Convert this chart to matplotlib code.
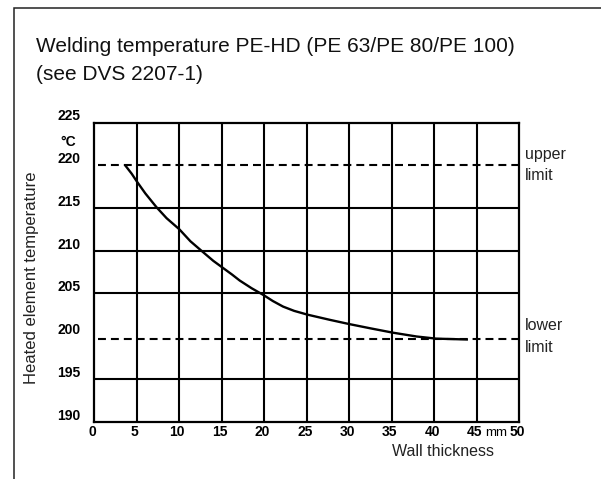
import matplotlib
matplotlib.use("Agg")
import matplotlib.pyplot as plt
from matplotlib.patches import Rectangle

# ---- data ----
thickness = [3.7, 4.4, 5.0, 6.0, 7.3, 8.5, 10.0, 11.3, 12.7, 14.0, 15.1, 16.2, 17.1, 18.5,
             19.9, 21.0, 22.2, 23.5, 25.1, 27.7, 30.0, 32.5, 35.1, 37.9, 40.2, 43.8]
temperature = [219.9, 219.0, 218.1, 216.7, 215.1, 213.8, 212.5, 211.1, 209.9, 208.8, 208.0,
               207.2, 206.5, 205.6, 204.8, 204.1, 203.45, 202.95, 202.5, 201.9, 201.4, 200.9,
               200.4, 199.95, 199.7, 199.6]
upper_limit = 220.0
lower_limit = 199.7
x_ticks = [0, 5, 10, 15, 20, 25, 30, 35, 40, 45, 50]
x_tick_labels = ["0", "5", "10", "15", "20", "25", "30", "35", "40", "45", "50"]
y_ticks = [190, 195, 200, 205, 210, 215, 220, 225]
y_tick_labels = ["190", "195", "200", "205", "210", "215", "220", "225"]
solid_h_grid = [195, 205, 210, 215]
solid_v_grid = [5, 10, 15, 20, 25, 30, 35, 40, 45]

W, H = 601, 479
fig = plt.figure(figsize=(W / 100, H / 100), dpi=100)
fig.patch.set_facecolor("white")

# outer frame
fig.patches.append(Rectangle((14 / W, -0.1), 1.2, 1 - 8 / H + 0.1, transform=fig.transFigure,
                             fill=False, edgecolor="#222222", linewidth=1.1))

L, R, T, B = 94.3, 519.5, 122.5, 421.5
ax = fig.add_axes([L / W, 1 - B / H, (R - L) / W, (B - T) / H])
ax.set_xlim(0, 50)
ax.set_ylim(190, 225)
for s in ax.spines.values():
    s.set_linewidth(1.6)
    s.set_color("black")
ax.set_xticks([])
ax.set_yticks([])

ax.hlines(solid_h_grid, 0, 50, colors="black", linewidth=1.5)
ax.vlines(solid_v_grid, 190, 225, colors="black", linewidth=1.5)
ax.hlines([upper_limit, lower_limit], 0.4, 50, colors="black", linewidth=1.5,
          linestyles=[(0, (3.8, 2.4))])
ax.plot(thickness, temperature, color="black", linewidth=1.7, solid_joinstyle="round")

tick_font = dict(family="Liberation Sans", fontsize=10, fontweight="bold")
for v, lab in zip(y_ticks, y_tick_labels):
    ax.annotate(lab, xy=(0, v), xycoords="data", xytext=(-14, 6), textcoords="offset pixels",
                ha="right", va="center", **tick_font)
ax.annotate("°C", xy=(0, 222.5), xytext=(-18, 2), textcoords="offset pixels",
            ha="right", va="center", **tick_font)
for v, lab in zip(x_ticks, x_tick_labels):
    ax.annotate(lab, xy=(v, 190), xytext=(-2, -11), textcoords="offset pixels",
                ha="center", va="center", **tick_font)
ax.annotate("mm", xy=(45, 190), xytext=(8, -11), textcoords="offset pixels",
            ha="left", va="center", family="Liberation Sans", fontsize=9.5)

txt = dict(family="Liberation Sans", fontsize=11.5, color="#222222")
fig.text(443 / W, 1 - 452 / H, "Wall thickness", ha="center", va="center", **txt)
fig.text(32 / W, 1 - 278 / H, "Heated element temperature", rotation=90,
         ha="center", va="center", family="Liberation Sans", fontsize=12, color="#222222")
fig.text(525 / W, 1 - 154 / H, "upper", ha="left", va="center", **txt)
fig.text(525 / W, 1 - 176 / H, "limit", ha="left", va="center", **txt)
fig.text(525 / W, 1 - 326 / H, "lower", ha="left", va="center", **txt)
fig.text(525 / W, 1 - 347 / H, "limit", ha="left", va="center", **txt)

fig.text(36 / W, 1 - 46 / H, "Welding temperature PE-HD (PE 63/PE 80/PE 100)",
         ha="left", va="center", family="Liberation Sans", fontsize=15, color="#111111")
fig.text(36 / W, 1 - 75 / H, "(see DVS 2207-1)",
         ha="left", va="center", family="Liberation Sans", fontsize=15, color="#111111")

fig.savefig("out.png", dpi=100, facecolor="white")
